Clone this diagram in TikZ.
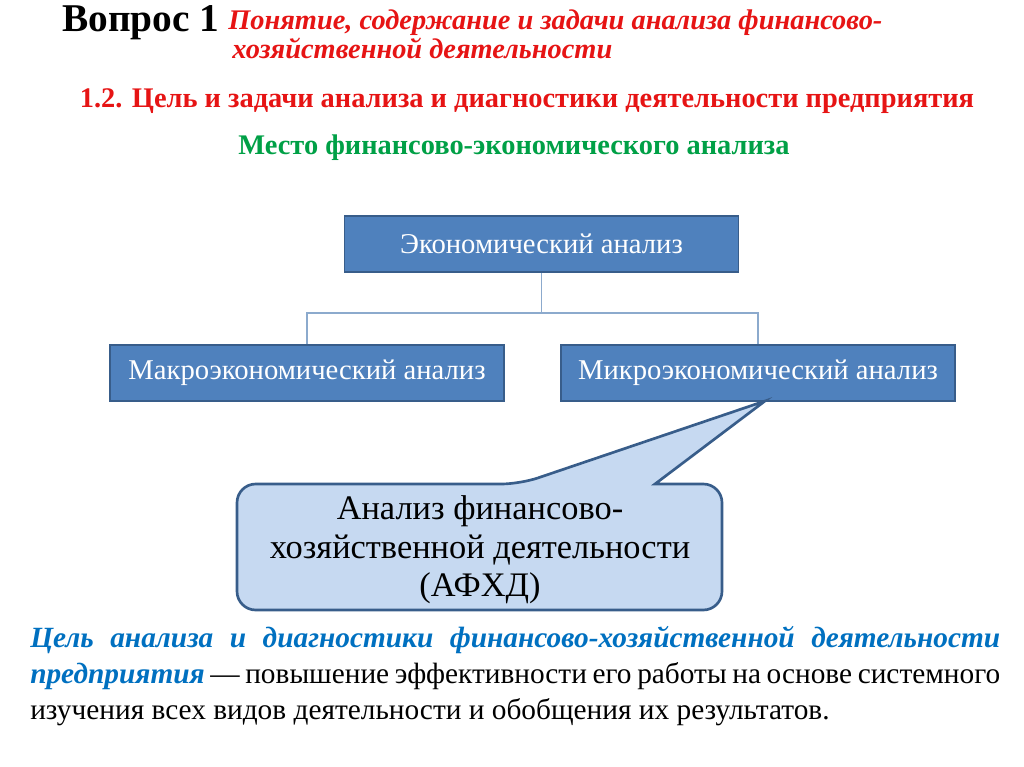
\documentclass[tikz,border=0pt]{standalone}
\usepackage{fontspec}
\setmainfont{Liberation Serif}
\definecolor{boxblue}{RGB}{79,129,189}
\definecolor{boxedge}{RGB}{56,93,138}
\definecolor{callfill}{RGB}{198,217,241}
\definecolor{titred}{RGB}{230,20,20}
\definecolor{titgreen}{RGB}{0,160,70}
\definecolor{textblue}{RGB}{0,112,192}
\definecolor{linec}{RGB}{140,170,205}
\tikzset{
 blue box/.style={draw=boxedge,line width=1.2pt,fill=boxblue,text=white,minimum width=295.5pt,minimum height=42pt,font=\fontsize{21.5}{24}\selectfont},
 conn/.style={draw=linec,line width=0.8pt}
}
\begin{document}
\begin{tikzpicture}[x=0.75pt,y=-0.75pt]
\useasboundingbox (0,0) rectangle (1024,767);
\node[anchor=base west,inner sep=0,font=\fontsize{29.5}{34}\bfseries\selectfont] (q) at (62,32) {Вопрос 1};
\node[anchor=base west,inner sep=0,text=titred,font=\fontsize{21.3}{24}\bfseries\itshape\selectfont] (t1) at (228,30) {Понятие, содержание и задачи анализа финансово-};
\node[anchor=base west,inner sep=0,text=titred,font=\fontsize{21.3}{24}\bfseries\itshape\selectfont] (t2) at (232,59) {хозяйственной деятельности};
\node[anchor=base,inner sep=0,text=titred,font=\fontsize{21.3}{24}\bfseries\selectfont] (t3) at (527,108) {1.2. Цель и задачи анализа и диагностики деятельности предприятия};
\node[anchor=base,inner sep=0,text=titgreen,font=\fontsize{21.3}{24}\bfseries\selectfont] (t4) at (514,154) {Место финансово-экономического анализа};
\node[blue box] (e) at (541.5,244) {Экономический анализ};
\node[blue box] (ma) at (307,373) {Макроэкономический анализ};
\node[blue box] (mi) at (758,373) {Микроэкономический анализ};
\coordinate (j) at (541.5,313);
\draw[conn] (e.south) -- (j);
\draw[conn] (ma.north) |- (j) -| (mi.north);
\coordinate (tip) at (765,401);
\draw[draw=boxedge,line width=2pt,fill=callfill,rounded corners=14pt]
 (237,484) -- (520,484) [sharp corners]-- (tip) -- (655,484) [rounded corners=14pt]-- (722,484) -- (722,610) -- (237,610) -- cycle;
\node[align=center,font=\fontsize{25.8}{29}\selectfont] (af) at (480,550) {Анализ финансово-\\хозяйственной деятельности\\(АФХД)};
\node[anchor=north west,inner sep=0,text width=727.5pt,align=justify,font=\fontsize{22}{27}\selectfont] (p) at (30,626)
 {{\color{textblue}\bfseries\itshape Цель анализа и диагностики финансово-хозяйственной деятельности предприятия} — повышение эффективности его работы на основе системного изучения всех видов деятельности и обобщения их результатов.\par};
\end{tikzpicture}
\end{document}
